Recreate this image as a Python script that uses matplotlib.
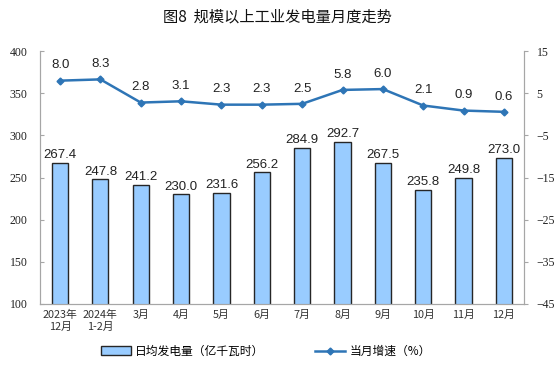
import numpy as np
import matplotlib
matplotlib.use("Agg")
from matplotlib import pyplot as plt

plt.rcParams['font.family'] = ['Noto Sans CJK SC', 'DejaVu Sans']

months = ["2023年\n12月", "2024年\n1-2月", "3月", "4月", "5月", "6月",
          "7月", "8月", "9月", "10月", "11月", "12月"]
daily_output = [267.4, 247.8, 241.2, 230.0, 231.6, 256.2,
                284.9, 292.7, 267.5, 235.8, 249.8, 273.0]
growth = [8.0, 8.3, 2.8, 3.1, 2.3, 2.3, 2.5, 5.8, 6.0, 2.1, 0.9, 0.6]

fig = plt.figure(figsize=(5.54, 3.68), dpi=100)
ax = fig.add_axes([0.072, 0.174, 0.874, 0.687])
ax2 = ax.twinx()

x = np.arange(len(months))
bars = ax.bar(x, daily_output, width=0.4, color="#99CCFF", edgecolor="#262626",
              linewidth=1.0, label="日均发电量（亿千瓦时）")
for xi, v in zip(x, daily_output):
    ax.text(xi, v + 2, f"{v:.1f}", ha="center", va="bottom",
            fontsize=9.5, family="Liberation Sans", color="#222222")

ax.set_ylim(100, 400)
ax.set_yticks(np.arange(100, 401, 50))
ax.set_xlim(-0.5, len(months) - 0.5)
ax.set_xticks(x)
ax.set_xticklabels(months, fontsize=7.8, color="#333333", linespacing=1.3)

line, = ax2.plot(x, growth, color="#2E75B6", linewidth=1.8, marker="D",
                 markersize=3.5, label="当月增速（%）")
for xi, v in zip(x, growth):
    ax2.text(xi, v + 2.2, f"{v:.1f}", ha="center", va="bottom",
             fontsize=9.5, family="Liberation Sans", color="#222222")
ax2.set_ylim(-45, 15)
ax2.set_yticks(np.arange(-45, 16, 10))

for a in (ax, ax2):
    a.spines["top"].set_visible(False)
    for s in ("left", "right", "bottom"):
        a.spines[s].set_color("#A6A6A6")
        a.spines[s].set_linewidth(0.8)
    a.tick_params(axis="y", labelsize=8.5, colors="#A6A6A6", length=3,
                  labelcolor="#222222")
    for lab in a.get_yticklabels():
        lab.set_family("Liberation Serif")
ax.tick_params(axis="x", length=0, pad=4)
ax.tick_params(axis="y", direction="in", pad=9)
ax2.tick_params(axis="y", pad=6)

fig.text(0.5, 0.955, "图8  规模以上工业发电量月度走势", ha="center", va="center",
         fontsize=11, color="#111111")

fig.legend(handles=[bars, line], loc="center", bbox_to_anchor=(0.48, 0.045),
           ncol=2, frameon=False, fontsize=8.5, columnspacing=4.3,
           handlelength=2.5, handleheight=0.8, handletextpad=0.4)

fig.savefig("out.png", dpi=100)
